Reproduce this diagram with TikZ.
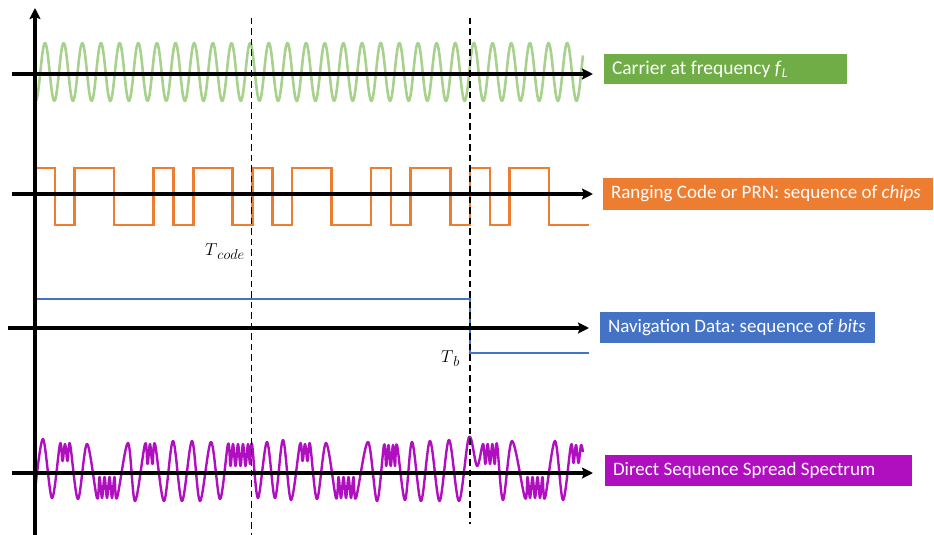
\documentclass[tikz,border=0pt]{standalone}
\usepackage{fontspec}
\setmainfont{Carlito}
\usetikzlibrary{arrows.meta}

\definecolor{carrierline}{HTML}{A9D18E}
\definecolor{carrierbox}{HTML}{70AD47}
\definecolor{codeorange}{HTML}{ED7D31}
\definecolor{navblue}{HTML}{4472C4}
\definecolor{dssspurple}{HTML}{B00FC0}

\newcommand{\boxtext}[2]{\makebox[#1][l]{\frenchspacing #2}}
\newcommand{\timemark}[2]{{\fontsize{17.28}{20}\selectfont$#1$}\raisebox{-4pt}{\fontsize{14.4}{16}\selectfont$#2$}}

\begin{document}
\begin{tikzpicture}[x=1pt,y=-1pt,
  axis/.style={line width=3.2pt,-{Stealth[length=11pt,width=11pt,inset=2pt]}},
  marker/.style={line width=1.4pt,dash pattern=on 6.5pt off 4pt},
  wave/.style={line width=2.6pt,line join=round},
  labelbox/.style={rectangle,text=white,inner xsep=8pt,inner ysep=0pt,
    font=\fontsize{19}{22}\selectfont},
  timelabel/.style={anchor=base west,inner sep=0pt}]

\useasboundingbox (0,0) rectangle (934,535);

% axis end points
\coordinate (yaxis-s) at (35,535);
\coordinate (yaxis-e) at (35,8);
\coordinate (car-s) at (12,74);   \coordinate (car-e) at (593,74);
\coordinate (code-s) at (12,194); \coordinate (code-e) at (593,194);
\coordinate (nav-s) at (8,328);   \coordinate (nav-e) at (589,328);
\coordinate (ds-s) at (12,473);   \coordinate (ds-e) at (593,473);
\coordinate (tc-top) at (251.5,18); \coordinate (tc-bot) at (251.5,535);
\coordinate (tb-top) at (470,18);   \coordinate (tb-bot) at (470,524);

% carrier
\draw[wave,carrierline] plot[domain=35:583,samples=700]
  (\x,{72-29*cos((\x-45)/18.65*360)});

% ranging code (11 chips, repeated)
\draw[wave,codeorange,line join=miter] (35,168) -- (54.8,168) -- (54.8,225) -- (74.5,225)
  -- (74.5,168) -- (114.1,168) -- (114.1,225) -- (153.6,225) -- (153.6,168)
  -- (173.4,168) -- (173.4,225) -- (193.2,225) -- (193.2,168) -- (232.7,168)
  -- (232.7,225) -- (252.5,225) -- (252.5,168) -- (272.3,168) -- (272.3,225)
  -- (292,225) -- (292,168) -- (331.6,168) -- (331.6,225) -- (371.1,225)
  -- (371.1,168) -- (390.9,168) -- (390.9,225) -- (410.7,225) -- (410.7,168)
  -- (450.2,168) -- (450.2,225) -- (470,225) -- (470,168) -- (489.8,168)
  -- (489.8,225) -- (509.5,225) -- (509.5,168) -- (549.1,168) -- (549.1,225)
  -- (588.6,225);

% navigation data
\draw[wave,navblue,line join=miter,line width=2.8pt] (35,299) -- (470,299) -- (470,353) -- (589,353);

% spread signal
\draw[wave,dssspurple,line width=2.4pt] plot[smooth,tension=0.55] coordinates {
  (35,491) (43,439) (52,498)
  (60,444) (62.5,461) (65,444) (67.5,461) (70,444)
  (78,499) (87,444)
  (97,498) (99.5,477) (102,498) (104.5,477) (107,498) (109.5,477) (112,498) (114.5,477) (117,498)
  (128,443) (135,501)
  (145,444) (147.5,464) (150,444) (152.5,464) (155,444)
  (164,501) (173,441) (182,501) (192,441) (200,501) (211,442) (220,499)
  (228,444) (230.5,466) (233,444) (235.5,466) (238,444) (240.5,466) (243,444) (245.5,466) (248,444) (250,464) (252,444)
  (258,498) (267,442) (275,498) (283,440) (291,500)
  (300,444) (302.5,461) (305,444) (307.5,461) (310,444)
  (317,499) (326,443)
  (336,498) (338.5,477) (341,498) (343.5,477) (346,498) (348.5,477) (351,498) (353.5,477) (356,498)
  (368,442) (377,501)
  (384,445) (386.2,466) (388.5,445) (390.7,466) (393,445) (395,466) (397,445)
  (405,500) (412,442) (421,501) (430,441) (439.5,501) (449,440) (459,501) (469,437)
  (477,466) (483,444) (485.3,464) (487.7,444) (490,464) (492.3,444) (494.7,464) (497,444)
  (503,500) (512,441)
  (525,498) (527.5,477) (530,498) (532.5,477) (535,498) (537.5,477) (540,498) (542.5,477) (545,498)
  (555,441) (563,500)
  (571,445) (573.5,463) (576,445) (578.5,463) (581,445) (583,452)};

% axes
\draw[axis] (yaxis-s) -- (yaxis-e);
\draw[axis] (car-s) -- (car-e);
\draw[axis] (code-s) -- (code-e);
\draw[axis] (nav-s) -- (nav-e);
\draw[axis] (ds-s) -- (ds-e);

% period markers
\draw[marker] (tc-top) -- (tc-bot);
\draw[marker] (tb-top) -- (tb-bot);
\node[timelabel] (tcode) at (205,255) {\timemark{T}{code}};
\node[timelabel] (tb) at (441,362) {\timemark{T}{b}};

% legend boxes
\node[labelbox,fill=carrierbox,minimum height=30pt,font=\fontsize{19.5}{22}\selectfont] (lab-car) at (725.5,69)
  {\boxtext{227pt}{Carrier at frequency \textit{f}\textsubscript{\textit{L}}}};
\node[labelbox,fill=codeorange,minimum height=32pt] (lab-code) at (768,194)
  {\boxtext{314pt}{Ranging Code or PRN: sequence of \textit{chips}}};
\node[labelbox,fill=navblue,minimum height=31pt] (lab-nav) at (737.5,327.5)
  {\boxtext{259pt}{Navigation Data: sequence of \textit{bits}}};
\node[labelbox,fill=dssspurple,minimum height=31pt] (lab-ds) at (758.5,470.5)
  {\boxtext{291pt}{Direct Sequence Spread Spectrum}};
\end{tikzpicture}
\end{document}
